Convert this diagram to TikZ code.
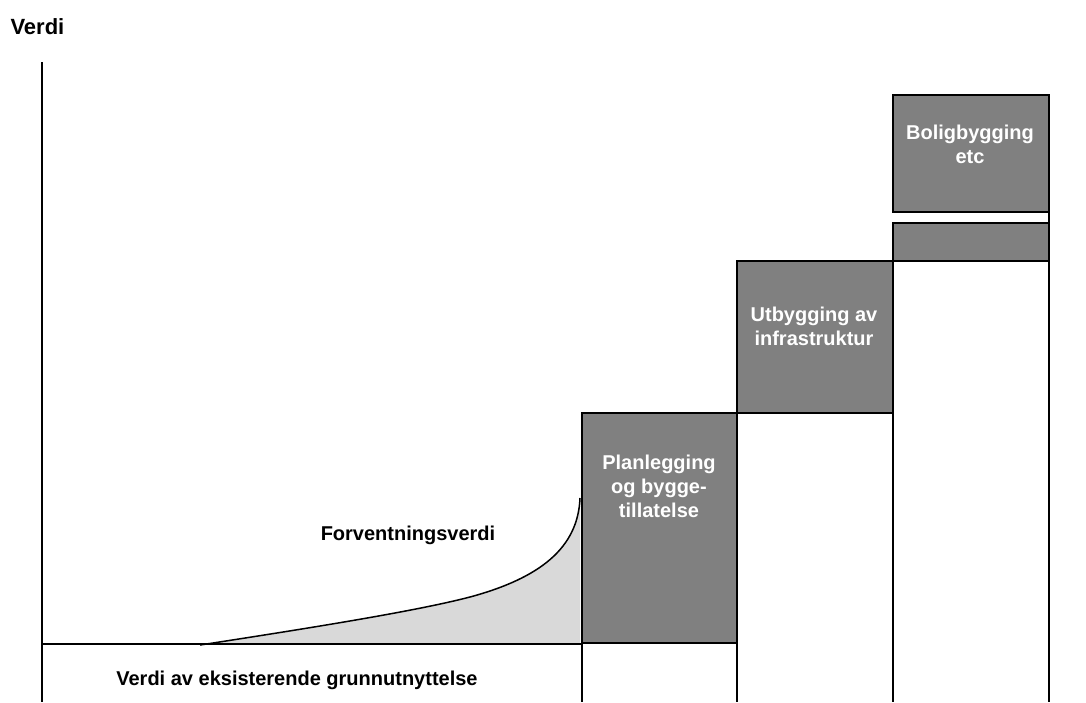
\documentclass[tikz,border=0pt]{standalone}
\usepackage{fontspec}
\setmainfont{Liberation Sans}
\definecolor{fasegraa}{HTML}{808080}
\definecolor{forvgraa}{HTML}{D9D9D9}
\newcommand{\kurve}{(200,645) .. controls (330,625) and (420,610) .. (470,597) .. controls (540,578) and (578,548) .. (580,498)}

\begin{document}
\begin{tikzpicture}[x=1pt,y=-1pt,
    kant/.style={line width=2pt},
    fase/.style={kant, fill=fasegraa},
    etikett/.style={font=\bfseries\fontsize{20}{24}\selectfont, align=center},
    lys/.style={etikett, text=white}]
	\useasboundingbox (0,0) rectangle (1086,702);
	% forventningsverdi
	\fill[forvgraa] \kurve -- (580,644) -- cycle;
	\draw[line width=1.5pt] \kurve;
	% akse og grunnlinje
	\draw[kant] (42,62) -- (42,702);
	\draw[kant] (42,644) -- (582,644);
	% faser
	\draw[kant] (582,642) -- (582,702) (737,642) -- (737,702);
	\draw[fase] (582,413) rectangle (737,643);
	\draw[kant] (893,413) -- (893,702);
	\draw[fase] (737,261) rectangle (893,413);
	\draw[kant] (1049,212) -- (1049,702);
	\draw[fase] (893,223) rectangle (1049,261);
	\draw[fase] (893,95) rectangle (1049,212);
	% tekst
	\node[etikett, font=\bfseries\fontsize{22}{26}\selectfont, anchor=west] (verdi) at (7,27) {Verdi};
	\node[etikett] (grunn) at (297,680) {Verdi av eksisterende grunnutnyttelse};
	\node[etikett] (forv) at (408,535) {Forventningsverdi};
	\node[lys] (plan) at (659,486) {Planlegging\\og bygge-\\tillatelse};
	\node[lys] (infra) at (814,326) {Utbygging av\\infrastruktur};
	\node[lys] (bolig) at (970,144) {Boligbygging\\etc};
\end{tikzpicture}
\end{document}
